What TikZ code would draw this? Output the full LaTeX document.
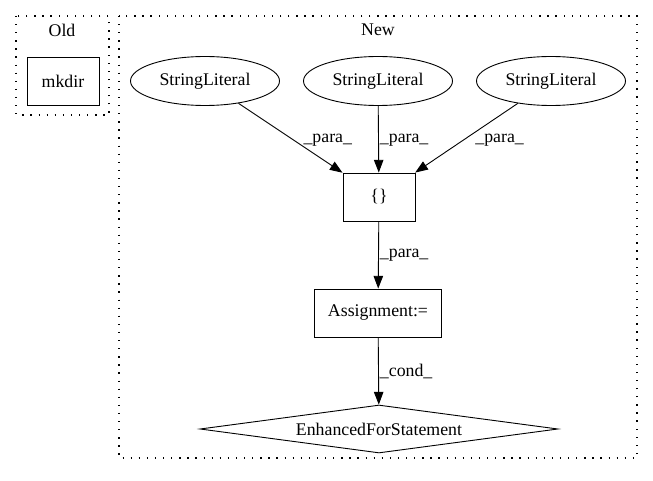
\documentclass[tikz,border=0pt]{standalone}
\usepackage{fontspec}
\setmainfont{Liberation Serif}
\usetikzlibrary{shapes.geometric,arrows.meta}

\begin{document}
\begin{tikzpicture}[x=1pt,y=1pt,
	font=\fontsize{17.8}{20}\selectfont,
	line width=0.9pt,
	box/.style={
		draw, rectangle, minimum width=72pt, minimum height=48pt, inner sep=0pt
	},
	literal/.style={
		draw, ellipse, minimum width=149pt, minimum height=49pt, inner sep=0pt
	},
	stmt/.style={
		draw, diamond, aspect=7.4, minimum width=358pt, minimum height=48pt, inner sep=0pt
	},
	cluster/.style={dash pattern=on 1.3pt off 6.8pt, line width=1.2pt},
	flow/.style={-{Triangle[length=12.7pt,width=9.5pt]}},
	elabel/.style={inner sep=1pt, anchor=west}]
	\useasboundingbox (0,0) rectangle (653,480);
	
	% Clusters
	\draw[cluster] (16,464) rectangle (109,365);
	\draw[cluster] (119,464) rectangle (637,22);
	\node (old) at (62,450) {Old};
	\node (new) at (378,450) {New};
	
	% Old side
	\node[box] (mkdir) at (63,399) {mkdir};
	
	% New side
	\node[literal] (sl1) at (205,399) {StringLiteral};
	\node[literal] (sl2) at (378,399) {StringLiteral};
	\node[literal] (sl3) at (551,399) {StringLiteral};
	\node[box] (braces) at (379,283) {\{\}};
	\node[box, minimum width=127pt] (assign) at (378,167) {Assignment:=};
	\node[stmt] (loop) at (379,51) {EnhancedForStatement};
	
	% Edges
	\draw[flow] (sl1) -- node[elabel, pos=0.53, xshift=8.5pt] {\_para\_} (braces);
	\draw[flow] (sl2) -- node[elabel, pos=0.51] {\_para\_} (braces);
	\draw[flow] (sl3) -- node[elabel, pos=0.53, xshift=10.5pt] {\_para\_} (braces);
	\draw[flow] (braces) -- node[elabel, pos=0.5] {\_para\_} (assign);
	\draw[flow] (assign) -- node[elabel, pos=0.51] {\_cond\_} (loop);
\end{tikzpicture}
\end{document}
